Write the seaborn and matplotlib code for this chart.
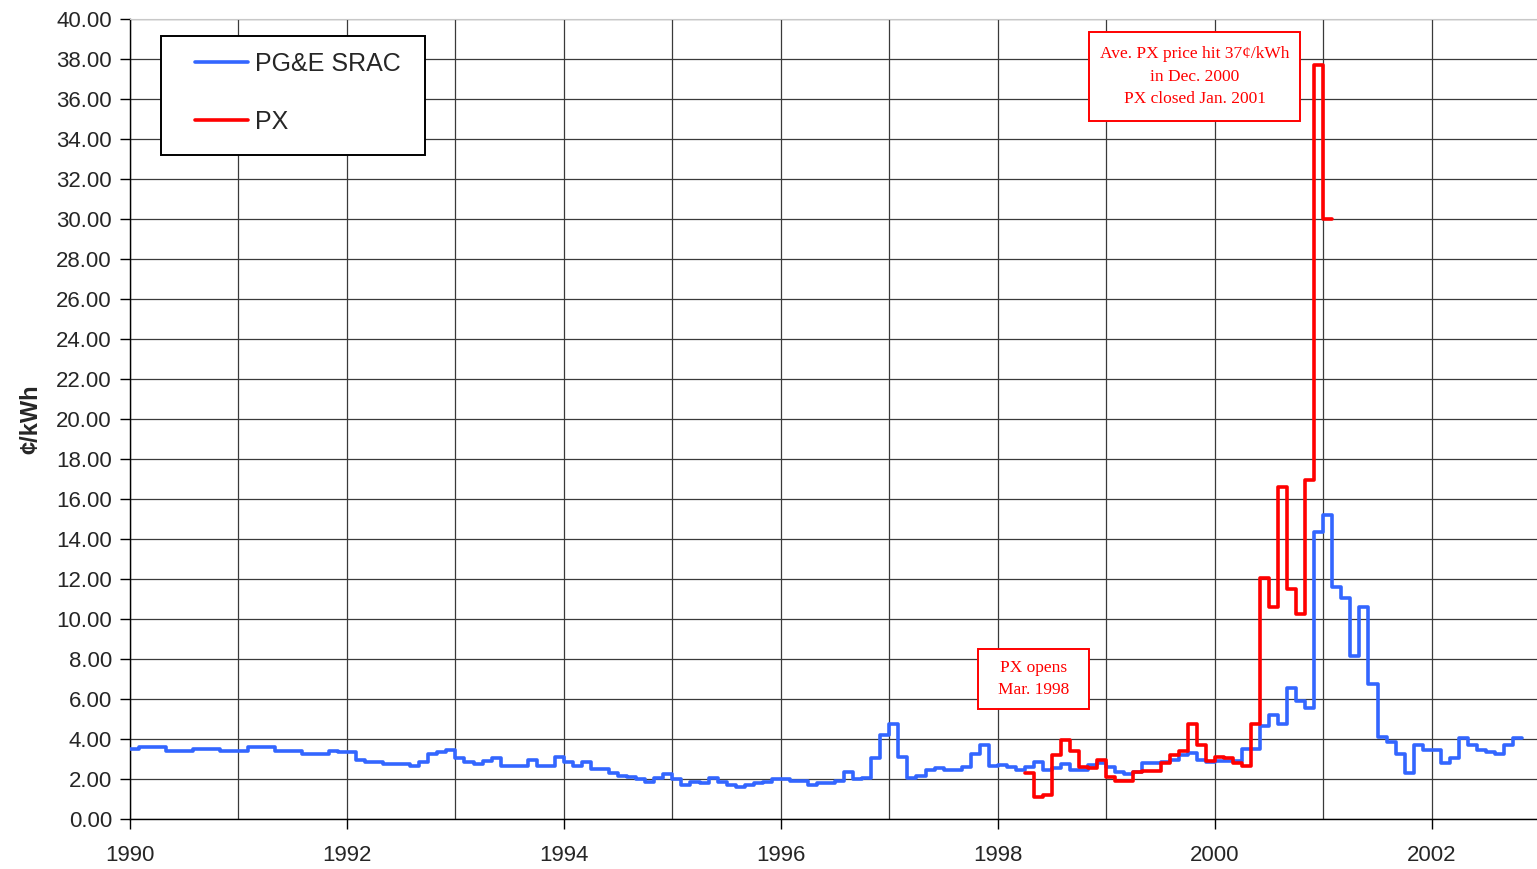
import pandas as pd
import seaborn as sns
import matplotlib.pyplot as plt
from matplotlib.patches import Rectangle
from matplotlib.ticker import MultipleLocator, FormatStrFormatter

sns.set_style('white')
plt.rcParams['font.family'] = ['Liberation Sans', 'DejaVu Sans']

# monthly average prices, cents per kWh
srac_start = '1990-01'
srac_cents = [
    3.48, 3.58, 3.58, 3.58, 3.40, 3.40, 3.40, 3.50, 3.50, 3.50, 3.42, 3.42,  # 1990
    3.42, 3.58, 3.58, 3.58, 3.42, 3.42, 3.42, 3.23, 3.23, 3.23, 3.42, 3.33,  # 1991
    3.33, 2.95, 2.87, 2.87, 2.73, 2.73, 2.73, 2.63, 2.85, 3.23, 3.33, 3.43,  # 1992
    3.03, 2.87, 2.75, 2.90, 3.03, 2.65, 2.65, 2.65, 2.95, 2.65, 2.65, 3.12,  # 1993
    2.87, 2.65, 2.87, 2.50, 2.50, 2.28, 2.17, 2.08, 2.00, 1.83, 2.07, 2.23,  # 1994
    2.00, 1.70, 1.87, 1.78, 2.07, 1.87, 1.70, 1.62, 1.70, 1.78, 1.87, 2.00,  # 1995
    2.00, 1.90, 1.90, 1.70, 1.82, 1.82, 1.90, 2.37, 2.00, 2.07, 3.03, 4.20,  # 1996
    4.73, 3.12, 2.03, 2.17, 2.45, 2.53, 2.45, 2.45, 2.62, 3.23, 3.70, 2.65,  # 1997
    2.70, 2.62, 2.45, 2.62, 2.83, 2.45, 2.55, 2.75, 2.45, 2.45, 2.70, 2.80,  # 1998
    2.62, 2.37, 2.25, 2.37, 2.78, 2.78, 2.85, 2.97, 3.20, 3.30, 2.93, 2.85,  # 1999
    2.90, 2.90, 2.90, 3.50, 3.50, 4.65, 5.20, 4.73, 6.53, 5.90, 5.57, 14.37,  # 2000
    15.20, 11.62, 11.03, 8.15, 10.62, 6.75, 4.08, 3.87, 3.23, 2.28, 3.70, 3.45,  # 2001
    3.45, 2.78, 3.07, 4.07, 3.70, 3.45, 3.33, 3.23, 3.70, 4.07,  # 2002
]

px_start = '1998-04'
px_cents = [
    2.30, 1.10, 1.20, 3.20, 3.95, 3.42, 2.62, 2.55, 2.93,  # 1998
    2.08, 1.92, 1.92, 2.37, 2.40, 2.40, 2.80, 3.20, 3.42, 4.73, 3.70, 2.92,  # 1999
    3.12, 3.03, 2.82, 2.65, 4.73, 12.03, 10.62, 16.58, 11.48, 10.23, 16.97, 37.70,  # 2000
    30.00,  # 2001
]

series_names = ['PG&E SRAC', 'PX']
series_colors = ['#3366FF', '#FF0000']

note_px_high = 'Ave. PX price hit 37¢/kWh\nin Dec. 2000\nPX closed Jan. 2001'
note_px_open = 'PX opens\nMar. 1998'


def monthly_frame(start, values):
    # one extra month so the last step gets its full width
    months = pd.period_range(start, periods=len(values) + 1, freq='M')
    year = months.year + (months.month - 1) / 12
    return pd.DataFrame({'Year': year, 'Cents': values + values[-1:]})


def add_box(ax, box, edge, zorder):
    ax.add_patch(Rectangle(box[:2], box[2], box[3], transform=ax.transAxes,
                           facecolor='white', edgecolor=edge, lw=1.4,
                           zorder=zorder))


def add_note(ax, text, box, center):
    add_box(ax, box, '#FF0000', 5)
    ax.text(center[0], center[1], text, transform=ax.transAxes,
            ha='center', va='center', color='#FF0000', fontsize=12.5,
            family='Liberation Serif', linespacing=1.55, zorder=6)


def main():
    fig = plt.figure(figsize=(15.37, 8.69), dpi=100)
    ax = fig.add_axes([130 / 1537, 50 / 869, 1407 / 1537, 800 / 869])

    frames = [monthly_frame(srac_start, srac_cents),
              monthly_frame(px_start, px_cents)]
    for df, name, color in zip(frames, series_names, series_colors):
        sns.lineplot(data=df, x='Year', y='Cents', drawstyle='steps-post',
                     estimator=None, color=color, lw=2.6, label=name, ax=ax,
                     zorder=3)

    ax.set_xlim(1990, 2002.97)
    ax.set_ylim(0, 40)
    ax.xaxis.set_major_locator(MultipleLocator(2))
    ax.xaxis.set_minor_locator(MultipleLocator(1))
    ax.xaxis.set_major_formatter(FormatStrFormatter('%d'))
    ax.yaxis.set_major_locator(MultipleLocator(2))
    ax.yaxis.set_major_formatter(FormatStrFormatter('%.2f'))

    ax.set_axisbelow(True)
    ax.grid(which='both', axis='x', color='#3a3a3a', lw=0.9)
    ax.grid(which='major', axis='y', color='#3a3a3a', lw=0.9)
    ax.get_ygridlines()[-1].set_color('#c8c8c8')

    ax.tick_params(axis='both', which='major', direction='out', length=7,
                   width=1, color='black', labelsize=16, left=True,
                   bottom=True)
    ax.tick_params(axis='x', which='major', pad=12)
    ax.tick_params(axis='y', which='major', pad=6)
    ax.tick_params(axis='x', which='minor', length=0)

    for side in ['left', 'bottom']:
        ax.spines[side].set_color('black')
        ax.spines[side].set_linewidth(1)
    ax.spines['top'].set_color('#c8c8c8')
    ax.spines['right'].set_visible(False)

    ax.set_xlabel('')
    ax.set_ylabel('¢/kWh', fontsize=17, fontweight='bold', labelpad=10)

    # legend frame drawn separately so the entries can sit like the original
    add_box(ax, (0.022, 0.83, 0.1876, 0.149), 'black', 6)
    leg = ax.legend(loc='center left', bbox_to_anchor=(0.0462, 0.9075),
                    borderaxespad=0, borderpad=0, fontsize=18,
                    handlelength=2.1, handletextpad=0.28,
                    labelspacing=1.36, frameon=False)
    leg.set_zorder(7)

    add_note(ax, note_px_high, (0.6816, 0.8725, 0.150, 0.111),
             (0.7566, 0.928))
    add_note(ax, note_px_open, (0.6027, 0.1375, 0.0789, 0.075),
             (0.6422, 0.175))

    fig.savefig('out.png', dpi=100)


if __name__ == '__main__':
    main()
